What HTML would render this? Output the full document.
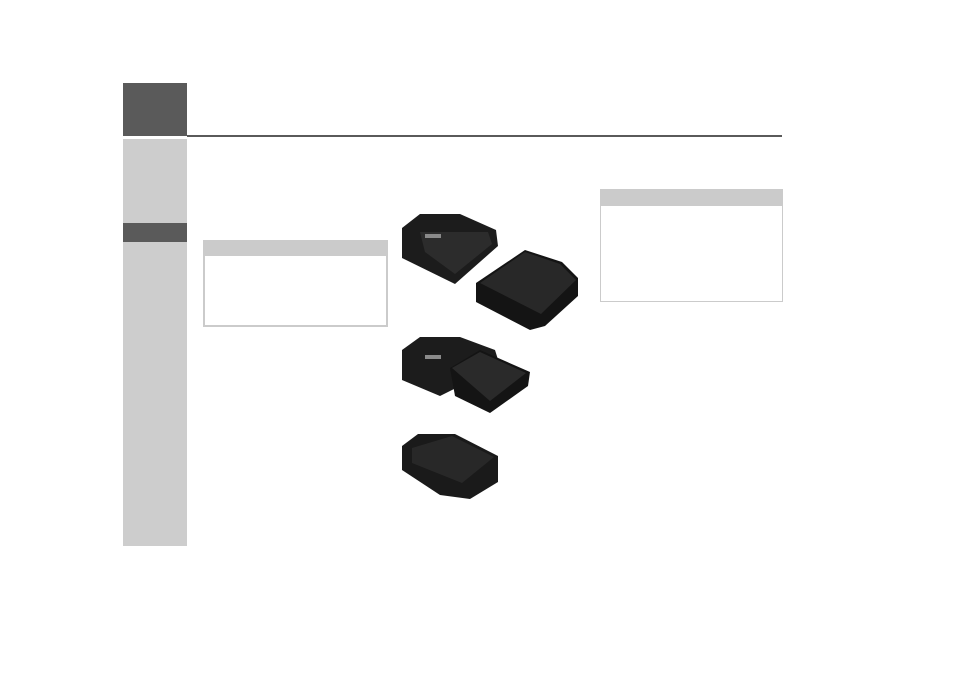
<!DOCTYPE html>
<html><head><meta charset="utf-8"><style>
html,body{margin:0;padding:0;background:#fff;}
body{width:954px;height:674px;position:relative;overflow:hidden;font-family:"Liberation Sans",sans-serif;}
div{position:absolute;box-sizing:border-box;}
</style></head><body>
<div style="left:123px;top:83px;width:64px;height:53px;background:#5a5a5a"></div>
<div style="left:187px;top:135px;width:595px;height:2px;background:#5a5a5a"></div>
<div style="left:123px;top:139px;width:64px;height:407px;background:#cdcdcd"></div>
<div style="left:123px;top:223px;width:64px;height:19px;background:#5a5a5a"></div>
<div style="left:203px;top:240px;width:185px;height:87px;border:2px solid #cbcbcb;border-top:16px solid #cbcbcb;background:#fff"></div>
<div style="left:600px;top:189px;width:183px;height:113px;border:1px solid #cbcbcb;border-top:17px solid #cbcbcb;background:#fff"></div>
<svg style="position:absolute;left:0;top:0" width="954" height="674">
<!-- image 1 -->
<polygon points="402,228 420,214 460,214 496,230 498,246 455,284 402,258" fill="#1c1c1c"/>
<polygon points="420,232 488,232 492,244 455,274 425,252" fill="#2c2c2c"/>
<polygon points="425,234 441,234 441,238 425,238" fill="#8a8a8a"/>
<polygon points="476,283 525,250 562,262 578,278 578,296 545,326 530,330 476,302" fill="#141414"/>
<polygon points="480,283 525,252 560,264 576,280 541,314" fill="#282828"/>
<!-- image 2 -->
<polygon points="402,350 420,337 460,337 495,350 500,366 440,396 402,380" fill="#1c1c1c"/>
<polygon points="425,355 441,355 441,359 425,359" fill="#8a8a8a"/>
<polygon points="450,368 480,350 530,372 528,386 490,413 455,396" fill="#141414"/>
<polygon points="452,368 480,352 526,373 490,401" fill="#2a2a2a"/>
<!-- image 3 -->
<polygon points="402,446 418,434 455,434 498,456 498,482 470,499 440,495 402,470" fill="#1a1a1a"/>
<polygon points="412,448 452,436 494,457 462,483 412,463" fill="#282828"/>
</svg>
</body></html>
